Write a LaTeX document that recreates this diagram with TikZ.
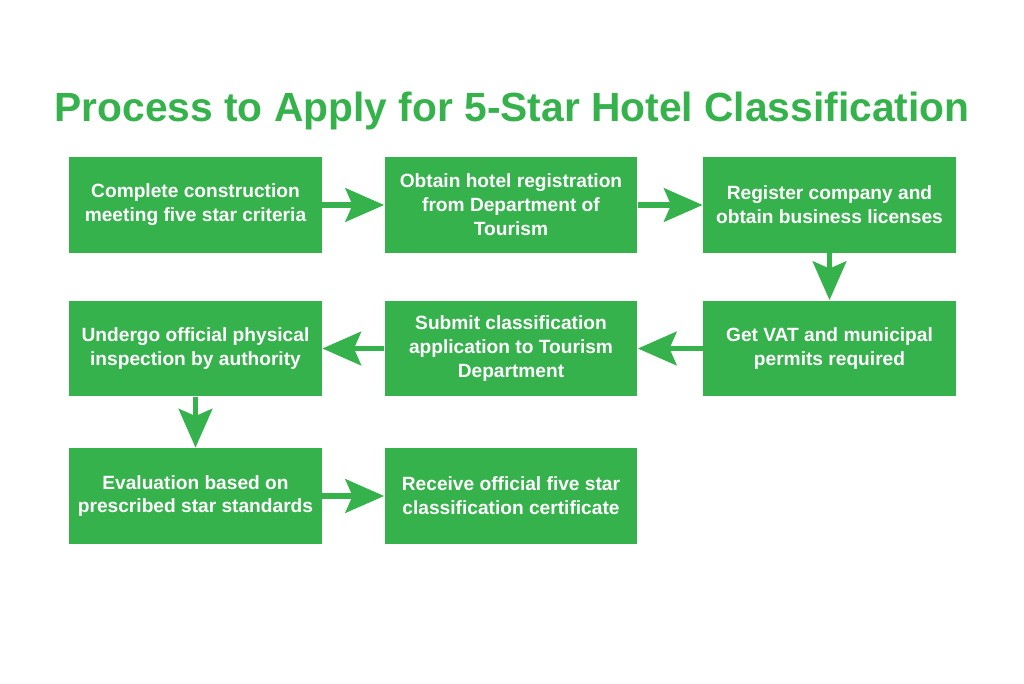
\documentclass[tikz,border=0pt]{standalone}
\usepackage{fontspec}
\setmainfont{Liberation Sans}
\usetikzlibrary{arrows.meta}
\definecolor{stepgreen}{RGB}{53,178,75}
\tikzset{
  stepbox/.style={fill=stepgreen, text=white, font=\bfseries\fontsize{10.9}{13.6}\selectfont,
    minimum width=5.06cm, minimum height=1.92cm, align=center, inner sep=0pt},
  flow/.style={draw=stepgreen, line width=3.4pt, -{Stealth[length=22pt,width=19pt,inset=4pt,fill=stepgreen]}}
}
\begin{document}
\begin{tikzpicture}[x=0.02cm, y=-0.02cm]
            %page frame, in pixels of the original picture
            \useasboundingbox (0,0) rectangle (1024,683);

            %Title
            \node [text=stepgreen, font=\bfseries\fontsize{23.2}{27}\selectfont] (title) at (512,111) {Process to Apply for 5-Star Hotel Classification};

            %steps: first row runs right, second row left, third row right
            \node [stepbox] (s1) at (195.5,205) {Complete construction\\meeting five star criteria};
            \node [stepbox] (s2) at (511,205) {Obtain hotel registration\\from Department of\\Tourism};
            \node [stepbox] (s3) at (829.5,205) {Register company and\\obtain business licenses};
            \node [stepbox] (s4) at (829.5,348.5) {Get VAT and municipal\\permits required};
            \node [stepbox] (s5) at (511,348.5) {Submit classification\\application to Tourism\\Department};
            \node [stepbox] (s6) at (195.5,348.5) {Undergo official physical\\inspection by authority};
            \node [stepbox] (s7) at (195.5,496) {Evaluation based on\\prescribed star standards};
            \node [stepbox] (s8) at (511,496) {Receive official five star\\classification certificate};

            %links
            \foreach \from/\to in {s1/s2, s2/s3, s3/s4, s4/s5, s5/s6, s6/s7, s7/s8}
                \draw[flow] (\from) -- (\to);
\end{tikzpicture}
\end{document}
